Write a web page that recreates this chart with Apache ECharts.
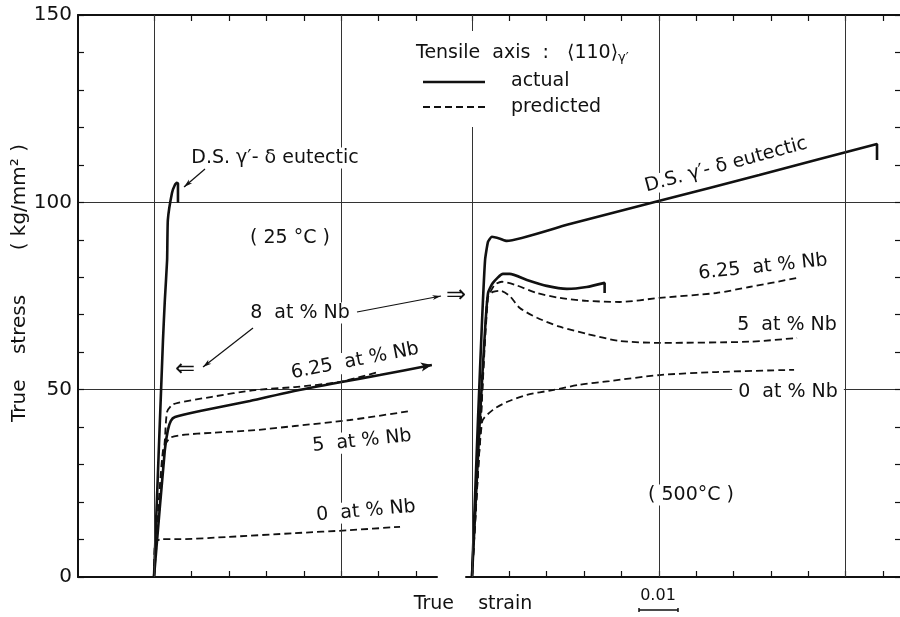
<!DOCTYPE html>
<html>
<head>
<meta charset="utf-8">
<script src="https://cdn.jsdelivr.net/npm/echarts@6/dist/echarts.min.js"></script>
<style>
  html, body { margin: 0; padding: 0; background: #fff; }
  #main { width: 900px; height: 617px; }
</style>
</head>
<body>
<div id="main"></div>
<script>
// readings: [true strain, true stress (kg/mm2)]
// 25 C panel
const eutectic25 = [[0, 0], [0.0024, 63.3], [0.0029, 74.0], [0.0035, 84.6], [0.0037, 95.3], [0.0048, 102.5], [0.0056, 104.7], [0.0061, 105.2], [0.0064, 105.0], [0.0064, 99.9]]
const actual625at25 = [[0, 0], [0.0029, 33.9], [0.0037, 39.2], [0.0045, 41.7], [0.0056, 42.7], [0.0123, 44.3], [0.0256, 47.0], [0.0363, 49.4], [0.0497, 52.0], [0.0603, 53.9], [0.0742, 56.6]]
const pred625at25 = [[0, 0], [0.0029, 36.6], [0.0035, 44.1], [0.0048, 45.9], [0.0064, 46.5], [0.0155, 48.1], [0.0270, 49.9], [0.0376, 50.7], [0.0497, 52.1], [0.0598, 54.7]]
const pred5at25 = [[0, 0], [0.0024, 33.9], [0.0043, 37.1], [0.0075, 37.9], [0.0155, 38.5], [0.0270, 39.2], [0.0376, 40.3], [0.0523, 41.9], [0.0684, 44.3]]
const pred0at25 = [[0, 0], [0.0003, 9.3], [0.0021, 10.1], [0.0064, 10.1], [0.0198, 10.7], [0.0376, 11.7], [0.0523, 12.5], [0.0657, 13.4]]
// 500 C panel
const eutectic500 = [[0, 0], [0.0016, 41.9], [0.0027, 68.6], [0.0035, 84.6], [0.0043, 89.5], [0.0053, 90.8], [0.0075, 90.3], [0.0093, 89.7], [0.0254, 94.0], [0.0502, 100.4], [0.0769, 107.3], [0.1084, 115.6], [0.1084, 111.3]]
const actual625at500 = [[0, 0], [0.0021, 41.9], [0.0035, 66.0], [0.0043, 75.8], [0.0056, 78.5], [0.0083, 80.9], [0.0101, 80.9], [0.0147, 79.3], [0.0200, 77.7], [0.0254, 76.9], [0.0307, 77.4], [0.0355, 78.5], [0.0355, 75.8]]
const pred625at500 = [[0, 0], [0.0021, 36.6], [0.0040, 74.0], [0.0048, 75.8], [0.0061, 78.0], [0.0080, 78.8], [0.0115, 78.0], [0.0174, 75.8], [0.0235, 74.5], [0.0307, 73.7], [0.0395, 73.4], [0.0502, 74.5], [0.0654, 75.8], [0.0742, 77.4], [0.0870, 79.8]]
const pred5at500 = [[0, 0], [0.0021, 36.6], [0.0043, 74.8], [0.0056, 76.1], [0.0075, 76.4], [0.0101, 75.0], [0.0128, 71.8], [0.0174, 69.2], [0.0235, 66.8], [0.0307, 64.9], [0.0395, 63.0], [0.0502, 62.5], [0.0742, 62.8], [0.0870, 63.8]]
const pred0at500 = [[0, 0], [0.0027, 41.4], [0.0056, 44.6], [0.0093, 46.7], [0.0147, 48.6], [0.0216, 49.9], [0.0288, 51.3], [0.0368, 52.3], [0.0502, 53.9], [0.0654, 54.7], [0.0862, 55.3]]

// ticks
const stressTicks = [0, 50, 100, 150]
const strainTicks25 = [0, 0.01, 0.02, 0.03, 0.04, 0.05, 0.06, 0.07]
const strainTicks500 = [0, 0.01, 0.02, 0.03, 0.04, 0.05, 0.06, 0.07, 0.08, 0.09, 0.10, 0.11]
const strainGrid25 = [0, 0.05]
const strainGrid500 = [0, 0.05, 0.10]

const FONT = 'DejaVu Sans'
const INK = '#111'
const pxPerStrain = 3745 // 0.01 strain = 37.45 px
// panel layout (px)
const plotLeft = 78, plotTop = 15, plotBottom = 577
const zero25 = 154, end25 = 437
const start500 = 466, zero500 = 472, end500 = 901

const chart = echarts.init(document.getElementById('main'), null, { renderer: 'canvas' })

function curve(data, panel, dashed, extra) {
  return Object.assign({
    type: 'line',
    data: data,
    xAxisIndex: panel === 0 ? 1 : 3,
    yAxisIndex: panel === 0 ? 1 : 2,
    symbol: 'none',
    showSymbol: false,
    smooth: 0.25,
    silent: true,
    lineStyle: { color: INK, width: dashed ? 1.8 : 2.6, type: dashed ? [7, 4] : 'solid' },
    z: 3
  }, extra || {})
}

function vgrid(values) {
  return {
    silent: true,
    symbol: 'none',
    label: { show: false },
    lineStyle: { color: '#333', width: 1, type: 'solid' },
    data: values.map(v => ({ xAxis: v }))
  }
}

function tickAxis(grid, pos, min, max, ticks, showLine) {
  return {
    type: 'value', gridIndex: grid, position: pos, min: min, max: max,
    axisLine: { show: showLine, onZero: false, lineStyle: { color: INK, width: 2 } },
    axisTick: { show: true, inside: true, length: 6, customValues: ticks, lineStyle: { color: INK, width: 1.2 } },
    axisLabel: { show: false },
    splitLine: { show: false }
  }
}

// arrow = thin line with small filled head at (x2, y2)
function arrow(x1, y1, x2, y2) {
  const a = Math.atan2(y2 - y1, x2 - x1), h = 9, w = 0.28
  return [
    { type: 'line', z: 100, shape: { x1: x1, y1: y1, x2: x2, y2: y2 }, style: { stroke: INK, lineWidth: 1.2 } },
    { type: 'polygon', z: 100, shape: { points: [[x2, y2], [x2 - h * Math.cos(a - w), y2 - h * Math.sin(a - w)], [x2 - h * 0.7 * Math.cos(a), y2 - h * 0.7 * Math.sin(a)], [x2 - h * Math.cos(a + w), y2 - h * Math.sin(a + w)]] }, style: { fill: INK } }
  ]
}

function label(text, x, y, opts) {
  opts = opts || {}
  return {
    type: 'text', z: 100, x: x, y: y, rotation: (opts.rot || 0) * Math.PI / 180,
    style: Object.assign({
      text: text, fontFamily: FONT, fontSize: 19, fill: INK,
      align: 'center', verticalAlign: 'middle',
      backgroundColor: opts.bg === false ? null : '#fff', padding: [1, 3]
    }, opts.style || {})
  }
}

const graphics = [
  // legend block
  { type: 'rect', z: 99, shape: { x: 410, y: 31, width: 244, height: 96 }, style: { fill: '#fff' } },
  {
    type: 'text', z: 100, x: 416, y: 53,
    style: {
      text: '{a|Tensile  axis  :   ⟨110⟩}{s|γ′}', fontFamily: FONT, fill: INK, verticalAlign: 'middle',
      rich: { a: { fontSize: 19, fontFamily: FONT, fill: INK }, s: { fontSize: 13, fontFamily: FONT, fill: INK, padding: [10, 0, 0, 0] } }
    }
  },
  { type: 'line', z: 100, shape: { x1: 423, y1: 82, x2: 485, y2: 82 }, style: { stroke: INK, lineWidth: 2.6 } },
  { type: 'line', z: 100, shape: { x1: 423, y1: 107, x2: 485, y2: 107 }, style: { stroke: INK, lineWidth: 1.8, lineDash: [7, 4] } },
  label('actual', 508, 81, { bg: false, style: { align: 'left' } }),
  label('predicted', 508, 107, { bg: false, style: { align: 'left' } }),

  // 25 C panel notes
  label('D.S. γ′- δ eutectic', 275, 158),
  ...arrow(205, 169, 184, 187),
  label('( 25 °C )', 290, 238),
  label('8  at % Nb', 300, 313),
  ...arrow(357, 312, 441, 296),
  ...arrow(253, 328, 203, 367),
  label('⇐', 185, 370, { bg: false, style: { fontSize: 24 } }),
  label('⇒', 456, 296, { bg: false, style: { fontSize: 24 } }),
  label('6.25  at % Nb', 355, 361, { rot: 11 }),
  label('5  at % Nb', 362, 441, { rot: 6 }),
  label('0  at % Nb', 366, 511, { rot: 5 }),

  // 500 C panel notes
  label('D.S. γ′- δ eutectic', 726, 165, { rot: 15, style: { padding: [0, 2] } }),
  label('6.25  at % Nb', 763, 267, { rot: 6 }),
  label('5  at % Nb', 787, 325),
  label('0  at % Nb', 788, 392, { style: { padding: [1, 6] } }),
  label('( 500°C )', 691, 495),

  // axis titles
  label('True    strain', 473, 604, { bg: false }),
  label('True    stress       ( kg/mm² )', 20, 283, { bg: false, rot: 90, style: { fontSize: 20 } }),

  // 0.01 strain scale bar
  label('0.01', 658, 596, { bg: false, style: { fontSize: 16 } }),
  { type: 'polyline', z: 100, shape: { points: [[639, 608], [639, 612], [639, 610], [678, 610], [678, 608], [678, 612]] }, style: { stroke: INK, lineWidth: 1.5, fill: null } }
]

const option = {
  animation: false,
  backgroundColor: '#fff',
  grid: [
    { left: plotLeft, top: plotTop, width: end500 - plotLeft, height: plotBottom - plotTop },
    { left: plotLeft, top: plotTop, width: end25 - plotLeft, height: plotBottom - plotTop },
    { left: start500, top: plotTop, width: end500 - start500, height: plotBottom - plotTop }
  ],
  xAxis: [
    {
      type: 'value', gridIndex: 0, position: 'top', min: 0, max: 1,
      axisLine: { show: true, onZero: false, lineStyle: { color: INK, width: 2 } },
      axisTick: { show: false }, axisLabel: { show: false }, splitLine: { show: false }
    },
    tickAxis(1, 'bottom', (plotLeft - zero25) / pxPerStrain, (end25 - zero25) / pxPerStrain, strainTicks25, true),
    tickAxis(1, 'top', (plotLeft - zero25) / pxPerStrain, (end25 - zero25) / pxPerStrain, strainTicks25, false),
    tickAxis(2, 'bottom', (start500 - zero500) / pxPerStrain, (end500 - zero500) / pxPerStrain, strainTicks500, true),
    tickAxis(2, 'top', (start500 - zero500) / pxPerStrain, (end500 - zero500) / pxPerStrain, strainTicks500, false)
  ],
  yAxis: [
    {
      type: 'value', gridIndex: 0, position: 'left', min: 0, max: 150, interval: 50,
      axisLine: { show: true, onZero: false, lineStyle: { color: INK, width: 2 } },
      axisTick: { show: true, inside: true, length: 6, lineStyle: { color: INK, width: 1.2 } },
      minorTick: { show: true, splitNumber: 5, length: 6, lineStyle: { color: INK, width: 1.2 } },
      axisLabel: { fontFamily: FONT, fontSize: 20, color: INK, margin: 6, customValues: stressTicks },
      splitLine: { show: true, showMinLine: false, showMaxLine: false, lineStyle: { color: '#333', width: 1 } }
    },
    { type: 'value', gridIndex: 1, min: 0, max: 150, show: false },
    { type: 'value', gridIndex: 2, min: 0, max: 150, show: false },
    {
      type: 'value', gridIndex: 0, position: 'right', min: 0, max: 150, interval: 50,
      axisLine: { show: false, onZero: false },
      axisTick: { show: true, inside: true, length: 5, lineStyle: { color: INK, width: 1.2 } },
      minorTick: { show: true, splitNumber: 5, length: 5, lineStyle: { color: INK, width: 1.2 } },
      axisLabel: { show: false },
      splitLine: { show: false }
    }
  ],
  series: [
    curve(eutectic25, 0, false, { markLine: vgrid(strainGrid25), smooth: 0.15 }),
    curve(actual625at25.map((p, i, a) => i === a.length - 1
      ? { value: p, symbol: 'arrow', symbolSize: [7, 11], symbolRotate: -79, itemStyle: { color: INK } }
      : p), 0, false, { showSymbol: true }),
    curve(pred625at25, 0, true),
    curve(pred5at25, 0, true),
    curve(pred0at25, 0, true),
    curve(eutectic500, 1, false, { markLine: vgrid(strainGrid500), smooth: 0.15 }),
    curve(actual625at500, 1, false, { smooth: 0.2 }),
    curve(pred625at500, 1, true),
    curve(pred5at500, 1, true),
    curve(pred0at500, 1, true)
  ],
  graphic: graphics
}

chart.setOption(option)
</script>
</body>
</html>
